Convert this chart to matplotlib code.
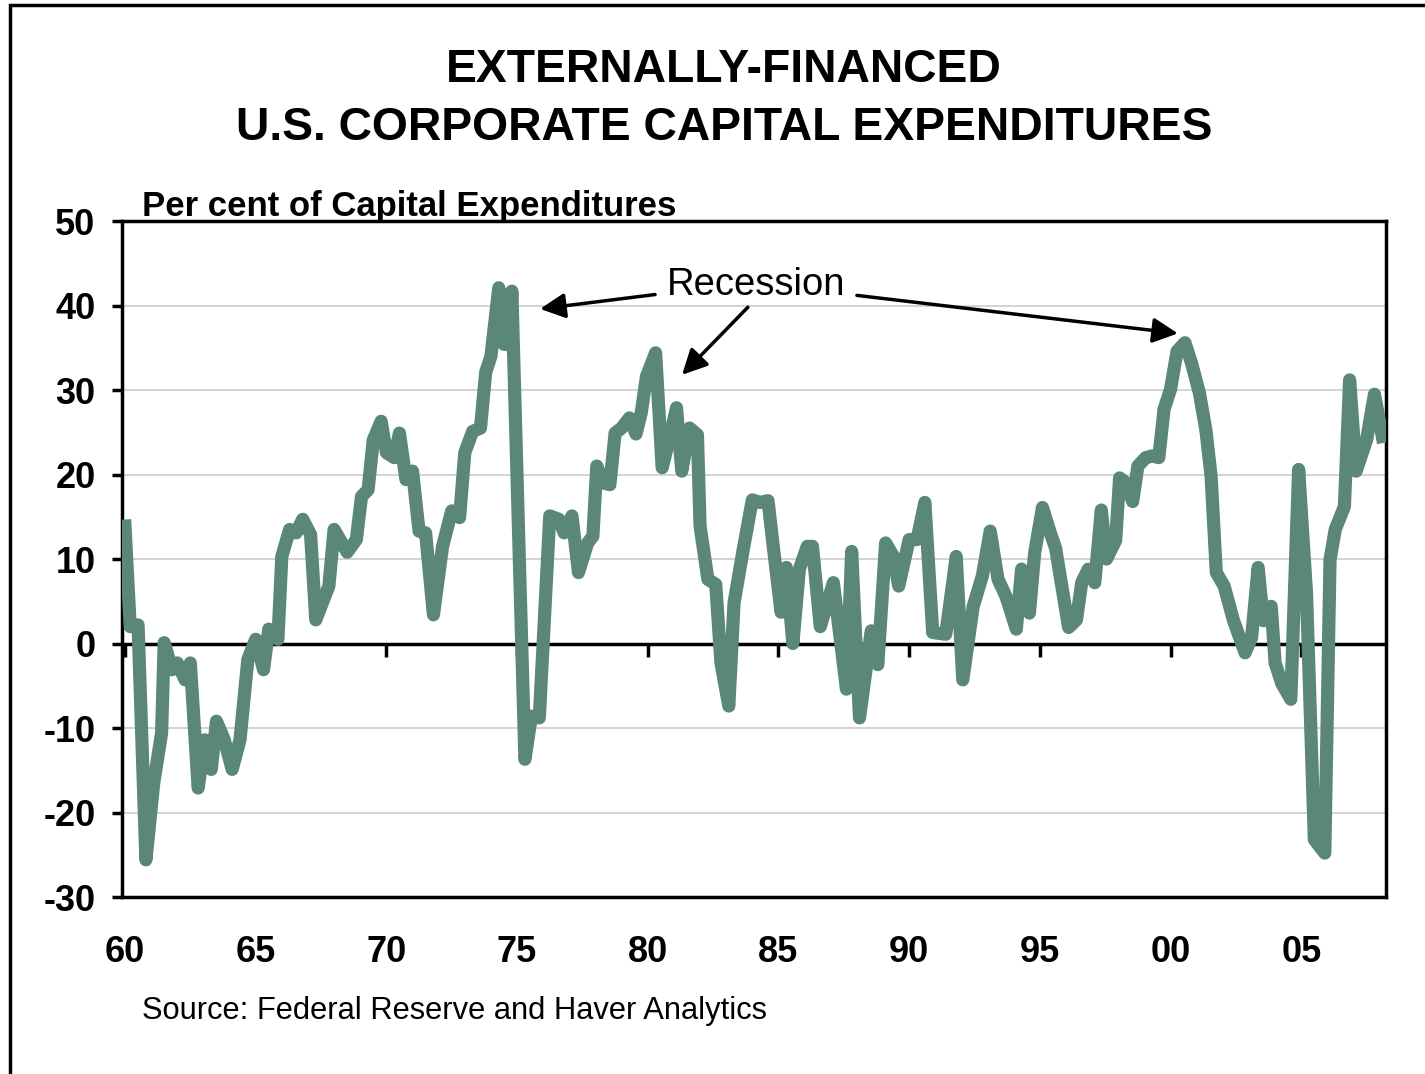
import matplotlib
matplotlib.use("Agg")
import matplotlib.pyplot as plt
from matplotlib.patches import Rectangle

plt.rcParams['font.family'] = ['Liberation Sans', 'DejaVu Sans']
plt.rcParams['axes.unicode_minus'] = False

# quarterly-ish readings (decimal year, per cent)
years = [1960.0, 1960.2, 1960.5, 1960.8, 1961.1, 1961.4, 1961.5, 1961.8, 1962.0, 1962.3,
         1962.5, 1962.8, 1963.05, 1963.3, 1963.5, 1963.8, 1964.1, 1964.4, 1964.7, 1965.0,
         1965.3, 1965.5, 1965.85, 1966.0, 1966.3, 1966.55, 1966.8, 1967.1, 1967.3, 1967.8,
         1968.0, 1968.5, 1968.85, 1969.05, 1969.3, 1969.5, 1969.8, 1970.0, 1970.3, 1970.5,
         1970.75, 1971.0, 1971.25, 1971.5, 1971.8, 1972.15, 1972.5, 1972.8, 1973.0, 1973.3,
         1973.6, 1973.8, 1974.0, 1974.3, 1974.5, 1974.7, 1974.8, 1975.3, 1975.55, 1975.85,
         1976.25, 1976.6, 1976.8, 1977.1, 1977.35, 1977.7, 1977.9, 1978.05, 1978.3, 1978.55,
         1978.75, 1979.0, 1979.3, 1979.55, 1979.75, 1979.95, 1980.3, 1980.55, 1980.85, 1981.1,
         1981.3, 1981.6, 1981.9, 1982.0, 1982.3, 1982.6, 1982.8, 1983.1, 1983.3, 1983.65,
         1984.0, 1984.3, 1984.6, 1984.8, 1985.1, 1985.3, 1985.55, 1985.8, 1986.1, 1986.3,
         1986.6, 1987.1, 1987.6, 1987.8, 1988.1, 1988.55, 1988.8, 1989.1, 1989.4, 1989.6,
         1990.0, 1990.3, 1990.6, 1990.9, 1991.4, 1991.8, 1992.05, 1992.45, 1992.8, 1993.1,
         1993.4, 1993.7, 1994.1, 1994.3, 1994.6, 1994.8, 1995.1, 1995.4, 1995.6, 1996.1,
         1996.4, 1996.6, 1996.85, 1997.1, 1997.35, 1997.55, 1997.9, 1998.05, 1998.3, 1998.55,
         1998.75, 1999.05, 1999.3, 1999.55, 1999.75, 2000.0, 2000.25, 2000.55, 2000.8, 2001.1,
         2001.35, 2001.55, 2001.75, 2002.05, 2002.4, 2002.85, 2003.1, 2003.35, 2003.55, 2003.85,
         2004.0, 2004.25, 2004.6, 2004.9, 2005.2, 2005.5, 2005.9, 2006.1, 2006.3, 2006.65,
         2006.85, 2007.1, 2007.5, 2007.8, 2008.1]
pct = [13.9, 2.0, 2.2, -25.6, -16.5, -10.6, 0.1, -3.1, -2.3, -4.3,
       -2.3, -17.1, -11.4, -14.9, -9.2, -11.4, -14.9, -11.4, -1.9, 0.5,
       -3.1, 1.7, 0.5, 10.3, 13.5, 13.1, 14.7, 12.9, 2.8, 6.8,
       13.5, 10.8, 12.3, 17.4, 18.2, 24.1, 26.3, 22.6, 22.0, 24.9,
       19.4, 20.4, 13.3, 13.1, 3.4, 11.5, 15.7, 14.9, 22.6, 25.1,
       25.5, 32.1, 34.0, 42.1, 35.4, 35.4, 41.7, -13.7, -8.6, -8.8,
       15.1, 14.7, 13.1, 15.1, 8.4, 11.9, 12.7, 21.0, 19.0, 18.8,
       24.9, 25.5, 26.7, 24.8, 27.3, 31.6, 34.4, 20.8, 24.5, 27.9,
       20.4, 25.5, 24.7, 13.9, 7.6, 7.0, -2.3, -7.4, 4.8, 11.1,
       17.0, 16.7, 16.9, 11.5, 3.7, 9.0, 0.0, 8.8, 11.5, 11.5,
       2.0, 7.2, -5.4, 10.9, -8.8, 1.5, -2.5, 11.9, 10.3, 6.8,
       12.3, 12.3, 16.7, 1.3, 1.1, 10.3, -4.3, 4.4, 8.0, 13.3,
       7.6, 5.6, 1.7, 8.8, 3.6, 10.7, 16.1, 13.1, 11.3, 1.9,
       2.8, 7.2, 8.8, 7.2, 15.8, 10.0, 12.2, 19.6, 19.0, 16.8,
       21.0, 22.0, 22.2, 22.0, 27.7, 30.1, 34.6, 35.6, 33.2, 29.7,
       25.3, 19.8, 8.4, 6.8, 2.8, -1.1, 0.7, 9.0, 2.7, 4.4,
       -2.3, -4.7, -6.6, 20.6, 6.0, -23.2, -24.8, 9.9, 13.5, 16.2,
       31.2, 20.4, 24.1, 29.5, 24.5]

xticks = [1960, 1965, 1970, 1975, 1980, 1985, 1990, 1995, 2000, 2005]
xlabels = ['60', '65', '70', '75', '80', '85', '90', '95', '00', '05']
yticks = [-30, -20, -10, 0, 10, 20, 30, 40, 50]

fig = plt.figure(figsize=(14.25, 10.74), dpi=100)
ax = fig.add_axes([0.0856, 0.1648, 0.8870, 0.6294])

ax.plot(years, pct, color='#5B8777', lw=9.5, solid_joinstyle='round', zorder=3)

ax.set_xlim(1959.885, 2008.24)
ax.set_ylim(-30, 50)
ax.set_yticks(yticks)
ax.set_xticks(xticks)
ax.set_xticklabels(xlabels)
ax.grid(axis='y', color='#cccccc', lw=1.2, zorder=0)
ax.axhline(0, color='black', lw=2.5, zorder=2)

for s in ax.spines.values():
    s.set_linewidth(2.5)
ax.tick_params(axis='y', direction='out', length=7, width=2.5, pad=12, labelsize=26)
ax.tick_params(axis='x', length=0, pad=27, labelsize=26)
for lab in ax.get_xticklabels() + ax.get_yticklabels():
    lab.set_fontweight('bold')

# tick marks hanging under the zero line
zax = ax.secondary_xaxis(0.375)
zax.set_xticks(xticks)
zax.set_xticklabels([])
zax.spines['bottom'].set_visible(False)
zax.tick_params(direction='out', length=9, width=2.5)

# recession annotation
ax.text(1984.14, 42.4, 'Recession', ha='center', va='center', fontsize=27.5)
arrow = dict(arrowstyle='-|>', color='black', lw=2.5, mutation_scale=38, shrinkA=0, shrinkB=0)
ax.annotate('', xy=(1975.88, 39.6), xytext=(1980.28, 41.3), arrowprops=arrow)
ax.annotate('', xy=(1981.31, 31.8), xytext=(1983.83, 39.8), arrowprops=arrow)
ax.annotate('', xy=(2000.28, 36.7), xytext=(1988.0, 41.2), arrowprops=arrow)

fig.text(0.508, 0.935, 'EXTERNALLY-FINANCED', ha='center', va='center',
         fontsize=33.3, fontweight='bold')
fig.text(0.508, 0.881, 'U.S. CORPORATE CAPITAL EXPENDITURES', ha='center', va='center',
         fontsize=33.3, fontweight='bold')
fig.text(0.100, 0.808, 'Per cent of Capital Expenditures', ha='left', va='center',
         fontsize=25, fontweight='bold')
fig.text(0.100, 0.059, 'Source: Federal Reserve and Haver Analytics', ha='left', va='center',
         fontsize=22.2)

fig.add_artist(Rectangle((0.007, -0.05), 1.2, 0.9953 + 0.05, transform=fig.transFigure,
                         fill=False, lw=2.5, edgecolor='black', clip_on=False))

fig.savefig('out.png', dpi=100)
